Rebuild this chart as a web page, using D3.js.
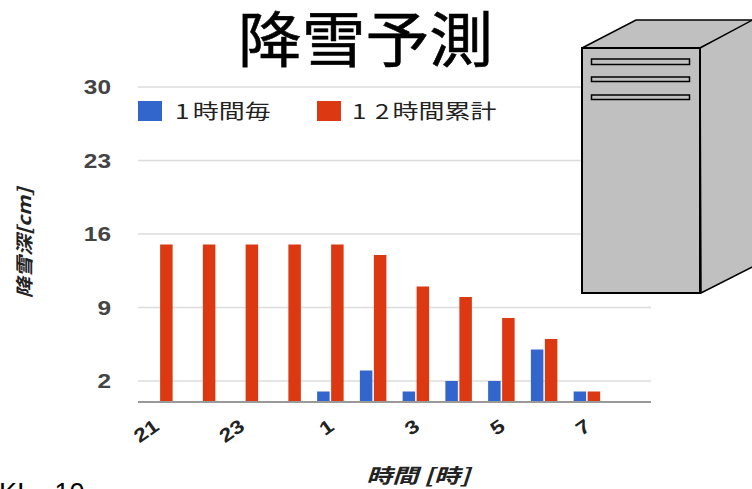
<!DOCTYPE html>
<html lang="ja">
<head>
<meta charset="utf-8">
<title>降雪予測</title>
<script src="https://cdn.jsdelivr.net/npm/d3@7/dist/d3.min.js"></script>
<style>
html,body{margin:0;padding:0;background:#fff;overflow:hidden}
svg{display:block}
text{font-family:"Noto Sans CJK JP","Liberation Sans",sans-serif}
</style>
</head>
<body>
<svg id="chart" width="752" height="489"></svg>
<script>
// Forecast data, one entry per hour
const hours = [21, 22, 23, 0, 1, 2, 3, 4, 5, 6, 7, 8];
const hourly = [0, 0, 0, 0, 1, 3, 1, 2, 2, 5, 1, 0];
const cumulative = [15, 15, 15, 15, 15, 14, 11, 10, 8, 6, 1, 0];
const yTicks = [2, 9, 16, 23, 30];
const xTicks = [21, 23, 1, 3, 5, 7];
const seriesNames = ["1時間毎", "12時間累計"];
const seriesColors = ["#3366cc", "#dc3912"];
const titleText = "降雪予測";
const xTitle = "時間 [時]";
const yTitle = "降雪深[cm]";
const cornerText = "KI    10";

const svg = d3.select("#chart");
const x = d3.scaleBand().domain(hours).range([138, 651]).paddingInner(0).paddingOuter(0);
const y = d3.scaleLinear().domain([0, 30]).range([402, 87]);
const barW = 12.5, barGap = 1.5;

// Gridlines and value labels
svg.append("g").selectAll("line").data(yTicks).join("line")
  .attr("x1", 138).attr("x2", 651)
  .attr("y1", d => y(d)).attr("y2", d => y(d))
  .attr("stroke", "#dcdcdc").attr("stroke-width", 1.5);
svg.append("g").selectAll("text").data(yTicks).join("text")
  .attr("transform", d => `translate(111,${y(d) + 7}) scale(1.22,1)`)
  .attr("text-anchor", "end")
  .style("font-family", "'Liberation Sans',sans-serif")
  .attr("font-weight", 700).attr("font-size", 20).attr("fill", "#444")
  .text(d => d);

// Grouped bars
const bars = svg.append("g");
[hourly, cumulative].forEach((values, s) => {
  bars.append("g").selectAll("rect")
    .data(values.map((v, i) => ({hour: hours[i], v})).filter(d => d.v > 0))
    .join("rect")
    .attr("x", d => x(d.hour) + x.bandwidth() / 2 + (s === 0 ? -barW - barGap / 2 : barGap / 2))
    .attr("width", barW)
    .attr("y", d => y(d.v))
    .attr("height", d => y(0) - y(d.v))
    .attr("fill", seriesColors[s]);
});

// Baseline
svg.append("line")
  .attr("x1", 138).attr("x2", 651)
  .attr("y1", y(0)).attr("y2", y(0))
  .attr("stroke", "#999").attr("stroke-width", 2);

// Slanted hour labels; single digits sit a little further right
svg.append("g").selectAll("text").data(xTicks).join("text")
  .attr("transform", d => `translate(${x(d) + x.bandwidth() / 2 + (d < 10 ? 5 : 1)},429) rotate(-35) scale(1.2,1)`)
  .attr("text-anchor", "end")
  .style("font-family", "'Liberation Sans',sans-serif")
  .attr("font-weight", 700).attr("font-size", 19).attr("fill", "#222")
  .text(d => d);

// Legend, with the latin digits spaced out to the kanji pitch
const legend = [{x: 138, tx: 175}, {x: 317, tx: 352}];
seriesNames.forEach((name, i) => {
  svg.append("rect").attr("x", legend[i].x).attr("y", 101)
    .attr("width", 24).attr("height", 20).attr("fill", seriesColors[i]);
  const label = svg.append("text")
    .attr("transform", `translate(${legend[i].tx},119) scale(1.3,1)`)
    .attr("font-size", 20).attr("font-weight", 400).attr("fill", "#222");
  const parts = name.match(/\d|\D+/g);
  label.selectAll("tspan")
    .data(parts)
    .join("tspan")
    .attr("letter-spacing", (d, j) => {
      if (!/\d/.test(d)) return 0;
      return /\d/.test(parts[j + 1]) ? 6.5 : 2.5;
    })
    .text(d => d);
});

// Axis titles
svg.append("text").attr("transform", "translate(418,483) scale(1.3,1)")
  .attr("text-anchor", "middle").attr("font-size", 20)
  .attr("font-weight", 700).attr("font-style", "italic").attr("fill", "#222")
  .text(xTitle);
svg.append("text").attr("transform", "translate(31,243) rotate(-90) scale(1.17,1)")
  .attr("text-anchor", "middle").attr("font-size", 18)
  .attr("font-weight", 700).attr("font-style", "italic").attr("fill", "#222")
  .text(yTitle);

// Title
svg.append("text").attr("transform", "translate(365.5,62) scale(1.03,0.97)")
  .attr("text-anchor", "middle").attr("font-size", 62).attr("fill", "#000")
  .attr("stroke", "#000").attr("stroke-width", 0.6)
  .text(titleText);

// Caption running off the lower corner
svg.append("text").attr("x", -1).attr("y", 502)
  .style("font-family", "'Liberation Sans',sans-serif")
  .attr("font-size", 27).attr("fill", "#000")
  .style("white-space", "pre")
  .text(cornerText);

// Server tower illustration
const server = svg.append("g").attr("stroke", "#000").attr("fill", "#c0c0c0")
  .attr("stroke-linejoin", "miter");
server.append("path").attr("d", "M582,48 L636,20 L760,20 L700,48 Z").attr("stroke-width", 1.5);
server.append("path").attr("d", "M700,48 L760,16 L760,263 L701,293 Z").attr("stroke-width", 1.5);
server.append("rect").attr("x", 582).attr("y", 48).attr("width", 118).attr("height", 245).attr("stroke-width", 2);
[[59, 5.5], [77, 4.5], [95, 4.5]].forEach(([sy, sh]) => {
  server.append("rect").attr("x", 591.5).attr("y", sy).attr("width", 98).attr("height", sh).attr("stroke-width", 1.5);
});
</script>
</body>
</html>
